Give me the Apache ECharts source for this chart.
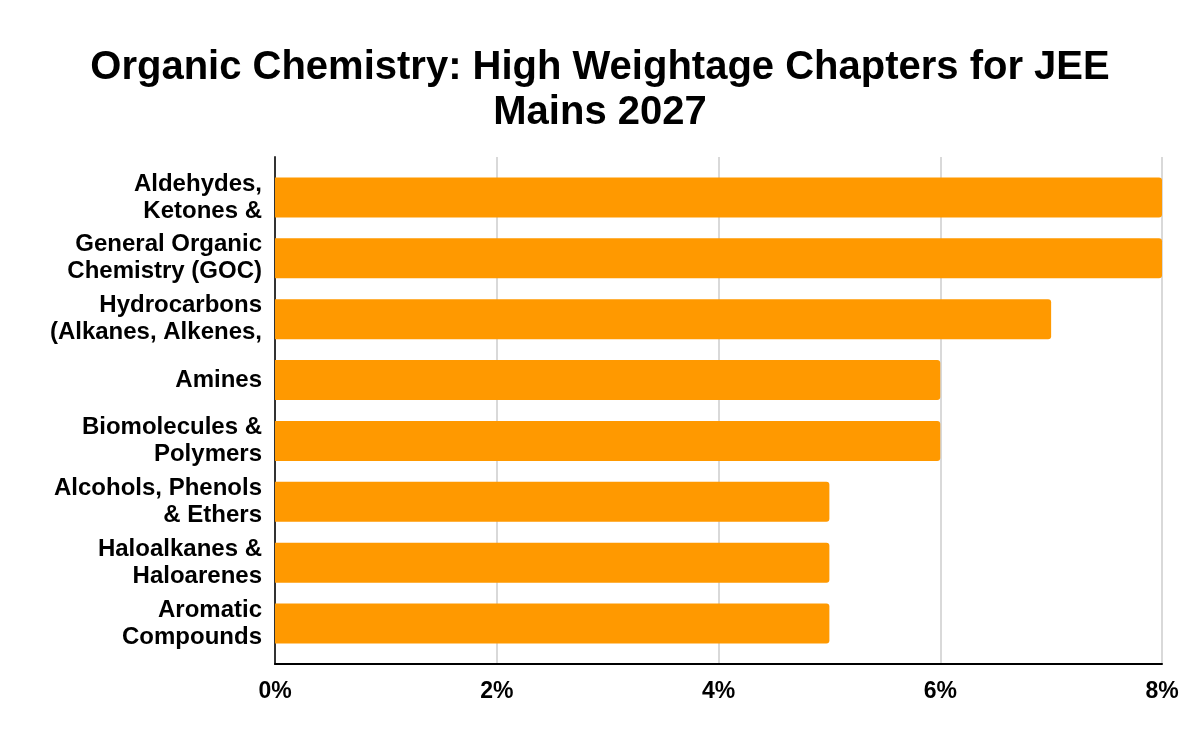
<!DOCTYPE html>
<html><head><meta charset="utf-8">
<script src="https://cdn.jsdelivr.net/npm/echarts@6/dist/echarts.min.js"></script>
<style>html,body{margin:0;padding:0;background:#fff}#c{width:1200px;height:742px}</style>
</head><body><div id="c"></div>
<script>
const categories = [
  "Aldehydes,\nKetones &",
  "General Organic\nChemistry (GOC)",
  "Hydrocarbons\n(Alkanes, Alkenes,",
  "Amines",
  "Biomolecules &\nPolymers",
  "Alcohols, Phenols\n& Ethers",
  "Haloalkanes &\nHaloarenes",
  "Aromatic\nCompounds"
];
const weightage = [8, 8, 7, 6, 6, 5, 5, 5];
const xTicks = [0, 2, 4, 6, 8];
const titleText = "Organic Chemistry: High Weightage Chapters for JEE\nMains 2027";

const FONT = "'Liberation Sans', Arial, sans-serif";
const xMin = xTicks[0], xMax = xTicks[xTicks.length - 1], xStep = xTicks[1] - xTicks[0];

const chart = echarts.init(document.getElementById('c'));
chart.setOption({
  backgroundColor: '#fff',
  animation: false,
  title: {
    text: titleText,
    left: 'center',
    top: 40,
    textStyle: { fontFamily: FONT, fontSize: 40, fontWeight: 'bold', color: '#000', lineHeight: 45 }
  },
  grid: [
    { left: 275, right: 38, top: 157, bottom: 78 },
    { left: 275, right: 38, top: 167, bottom: 88 }
  ],
  xAxis: [
    {
      gridIndex: 0, type: 'value', min: xMin, max: xMax, interval: xStep,
      axisLine: { show: true, lineStyle: { color: '#000', width: 2 } },
      axisTick: { show: false },
      splitLine: { show: true, lineStyle: { color: '#cccccc', width: 1.5 } },
      axisLabel: {
        formatter: v => v + '%', margin: 16,
        fontFamily: FONT, fontSize: 23, fontWeight: 'bold', color: '#000'
      }
    },
    {
      gridIndex: 1, type: 'value', min: xMin, max: xMax, interval: xStep, show: false
    }
  ],
  yAxis: [
    {
      gridIndex: 0, type: 'value', min: 0, max: 1,
      axisLine: { show: true, onZero: false, lineStyle: { color: '#333', width: 2 } },
      axisTick: { show: false }, axisLabel: { show: false }, splitLine: { show: false }
    },
    {
      gridIndex: 1, type: 'category', data: categories, inverse: true,
      axisLine: { show: false },
      axisTick: { show: false },
      axisLabel: {
        margin: 13, align: 'right',
        fontFamily: FONT, fontSize: 24, fontWeight: 'bold', color: '#000', lineHeight: 27
      }
    }
  ],
  series: [{
    type: 'bar', xAxisIndex: 1, yAxisIndex: 1, data: weightage, barWidth: 40,
    itemStyle: { color: '#FF9900', borderRadius: [0, 3, 3, 0] }
  }]
});
</script></body></html>
